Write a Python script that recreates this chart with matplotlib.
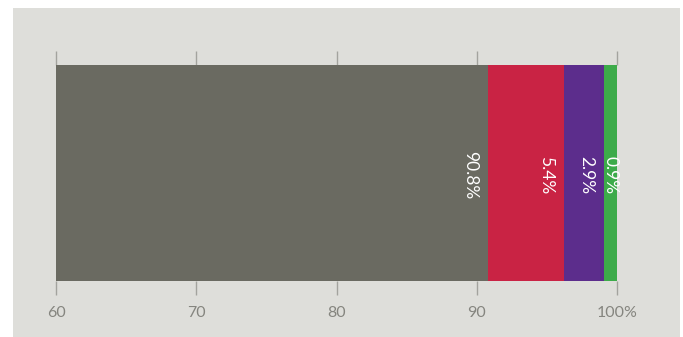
import matplotlib
matplotlib.use("Agg")
import matplotlib.pyplot as plt
from matplotlib.patches import Rectangle

values = [90.8, 5.4, 2.9, 0.9]
labels = ["90.8%", "5.4%", "2.9%", "0.9%"]
colors = ["#6a6a61", "#c92344", "#5c2d8c", "#3dab4a"]
tick_vals = [60, 70, 80, 90, 100]
tick_labels = ["60", "70", "80", "90", "100%"]
axis_min, axis_max = 60, 100

W, H = 683, 337
fig = plt.figure(figsize=(W / 100, H / 100), dpi=100, facecolor="white")
fig.patches.append(Rectangle((13 / W, 0), (680 - 13) / W, (337 - 8) / H,
                             transform=fig.transFigure, facecolor="#dededa",
                             edgecolor="none", zorder=-10))

ax = fig.add_axes([56 / W, 1 - 281 / H, (617 - 56) / W, (281 - 65) / H])
ax.set_facecolor("none")
ax.set_xlim(axis_min, axis_max)
ax.set_ylim(0, 1)

left = 0
px_per_unit = (617 - 56) / (axis_max - axis_min)
for v, lab, c in zip(values, labels, colors):
    ax.barh(0.5, v, left=left, height=1.0, color=c, edgecolor="none", zorder=2)
    end = left + v
    center = left + v / 2
    x = max(end - 18 / px_per_unit, center)
    ax.text(x, 0.49, lab, rotation=270, color="white", ha="center", va="center",
            fontsize=12.5, family="Lato", fontweight="normal", zorder=3)
    left = end

for s in ax.spines.values():
    s.set_visible(False)
ax.set_yticks([])
ax.set_xticks(tick_vals)
ax.set_xticklabels(tick_labels)
ax.tick_params(axis="x", which="both", top=True, bottom=True, direction="out",
               length=10, width=1, color="#a3a39e", pad=8,
               labelsize=11.5, labelcolor="#85857f")
for t in ax.get_xticklabels():
    t.set_family("Lato")
    t.set_fontweight("normal")

fig.savefig("out.png", dpi=100, facecolor=fig.get_facecolor())
